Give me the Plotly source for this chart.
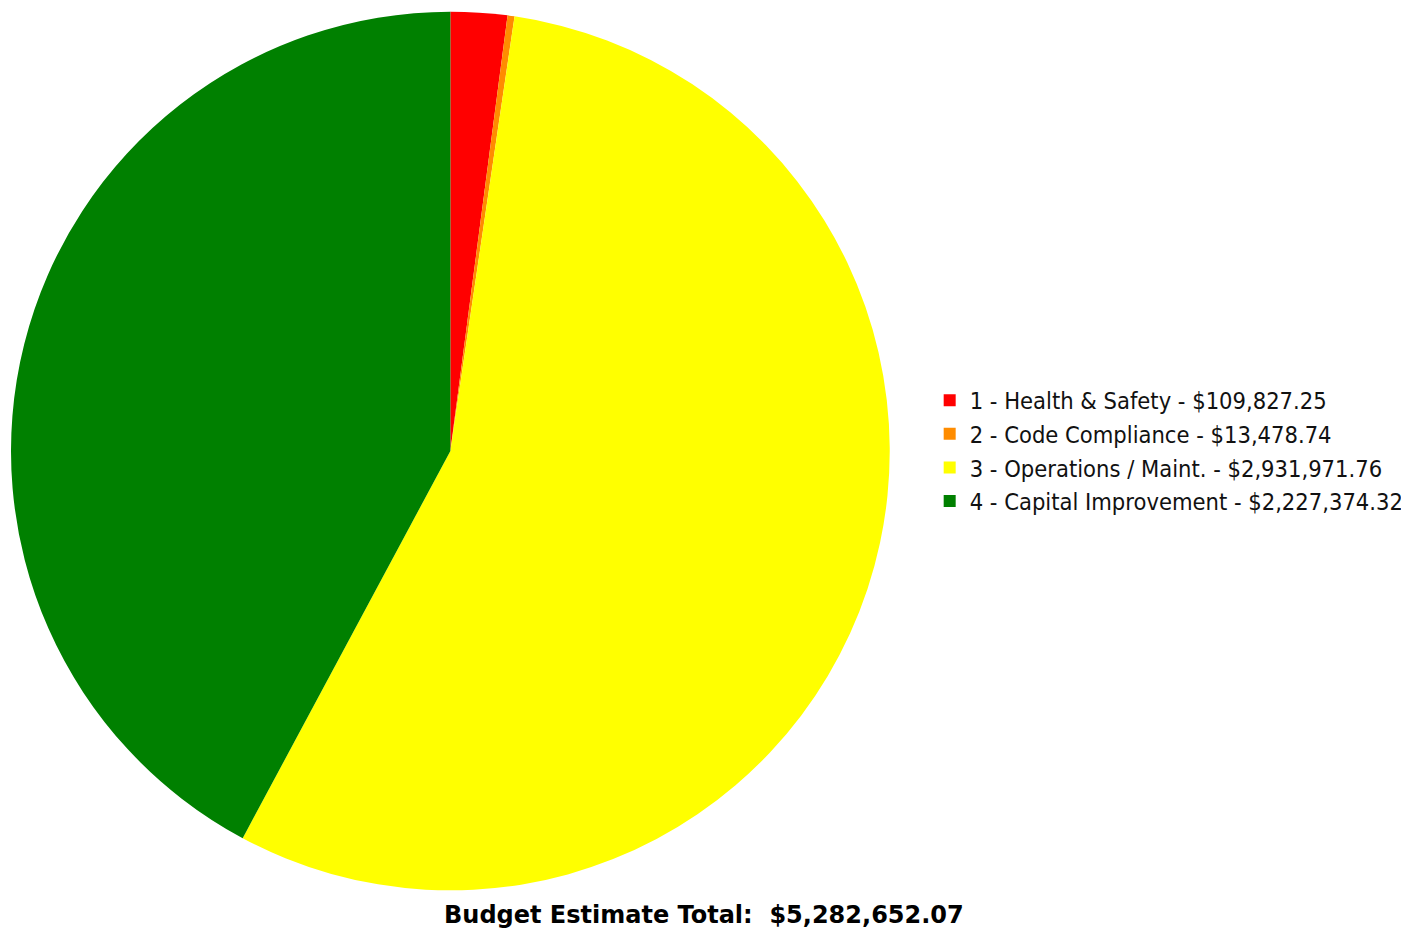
import plotly.graph_objects as go

categories = ["1 - Health & Safety", "2 - Code Compliance", "3 - Operations / Maint.", "4 - Capital Improvement"]
values = [109827.25, 13478.74, 2931971.76, 2227374.32]
colors = ["#ff0000", "#ff8c00", "#ffff00", "#008000"]
total_label = "Budget Estimate Total:"

labels = [f"{c} - ${v:,.2f}" for c, v in zip(categories, values)]
total = sum(values)

# page has an 8px body margin; work in figure coordinates
OFF = 8
W, H = 1401, 923


def px(x):
    return (x - OFF) / W


def py(y):
    return 1 - (y - OFF) / H


fig = go.Figure(go.Pie(
    labels=labels, values=values, sort=False, direction="clockwise", rotation=0,
    marker=dict(colors=colors, line=dict(width=0)),
    textinfo="none", hoverinfo="label+percent",
    domain=dict(x=[px(11), px(891)], y=[py(891), py(11)]),
))
fig.add_annotation(
    text=f"<b>{total_label}  ${total:,.2f}</b>", x=px(705), y=py(915),
    xref="paper", yref="paper", xanchor="center", yanchor="middle", showarrow=False,
    font=dict(family="DejaVu Sans", size=24, color="#000000"),
)
fig.update_layout(
    width=W, height=H, margin=dict(l=0, r=0, t=0, b=0),
    paper_bgcolor="white", plot_bgcolor="white",
    font=dict(family="DejaVu Sans Condensed, DejaVu Sans", color="#000000"),
    legend=dict(x=px(931), y=py(451), xanchor="left", yanchor="middle",
                font=dict(size=23.5, color="#111111"), bgcolor="rgba(0,0,0,0)"),
)
fig.write_html("out.html")
